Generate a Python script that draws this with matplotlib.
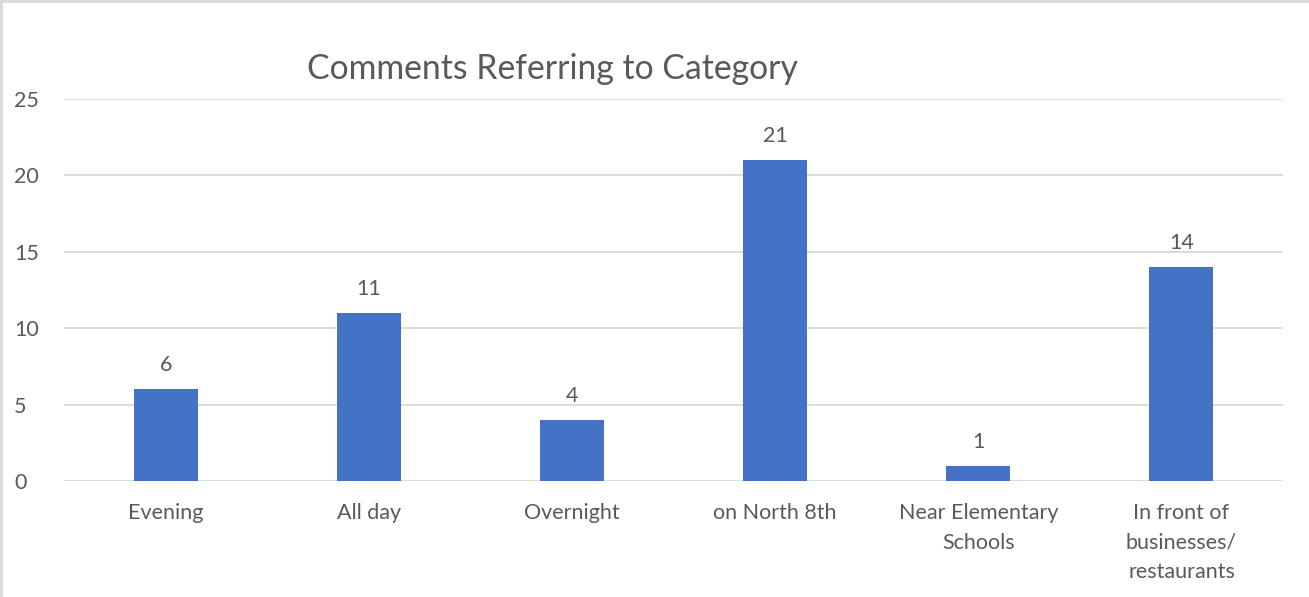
import matplotlib.pyplot as plt
from matplotlib.lines import Line2D

CATEGORIES = ["Evening", "All day", "Overnight", "on North 8th",
              "Near Elementary\nSchools", "In front of\nbusinesses/\nrestaurants"]
COUNTS = [6, 11, 4, 21, 1, 14]
Y_TICKS = [0, 5, 10, 15, 20, 25]

TEXT = "#595959"
GRID = "#d9d9d9"
BAR = "#4472c4"

plt.rcParams["font.family"] = ["Lato", "DejaVu Sans"]

fig = plt.figure(figsize=(13.09, 5.97), dpi=100)
ax = fig.add_axes([0.0489, 0.1943, 0.9313, 0.6399])

x = range(len(CATEGORIES))
bars = ax.bar(x, COUNTS, width=0.315, color=BAR, zorder=3)
for rect, val in zip(bars, COUNTS):
    ax.annotate(str(val), (rect.get_x() + rect.get_width() / 2, val),
                xytext=(0, 10), textcoords="offset points",
                ha="center", va="bottom", fontsize=15.5, color=TEXT)

ax.set_xlim(-0.5, len(CATEGORIES) - 0.5)
ax.set_ylim(0, 25)
ax.set_yticks(Y_TICKS)
ax.set_xticks(list(x))
ax.set_xticklabels(CATEGORIES, linespacing=1.58)
ax.tick_params(axis="both", length=0, colors=TEXT, labelsize=15.5)
ax.tick_params(axis="y", pad=36)
ax.tick_params(axis="x", pad=16)
for lbl in ax.get_yticklabels():
    lbl.set_horizontalalignment("left")
ax.grid(axis="y", color=GRID, linewidth=1.3, zorder=0)
for s in ax.spines.values():
    s.set_visible(False)

fig.text(0.4217, 0.885, "Comments Referring to Category", ha="center",
         va="center", fontsize=24.3, color=TEXT)

# light frame on the left and top edges
fig.add_artist(Line2D([0.001, 0.001], [0, 1], transform=fig.transFigure,
                      color="#d9d9d9", linewidth=2))
fig.add_artist(Line2D([0, 1], [0.998, 0.998], transform=fig.transFigure,
                      color="#d9d9d9", linewidth=2))

fig.savefig("out.png", dpi=100)
